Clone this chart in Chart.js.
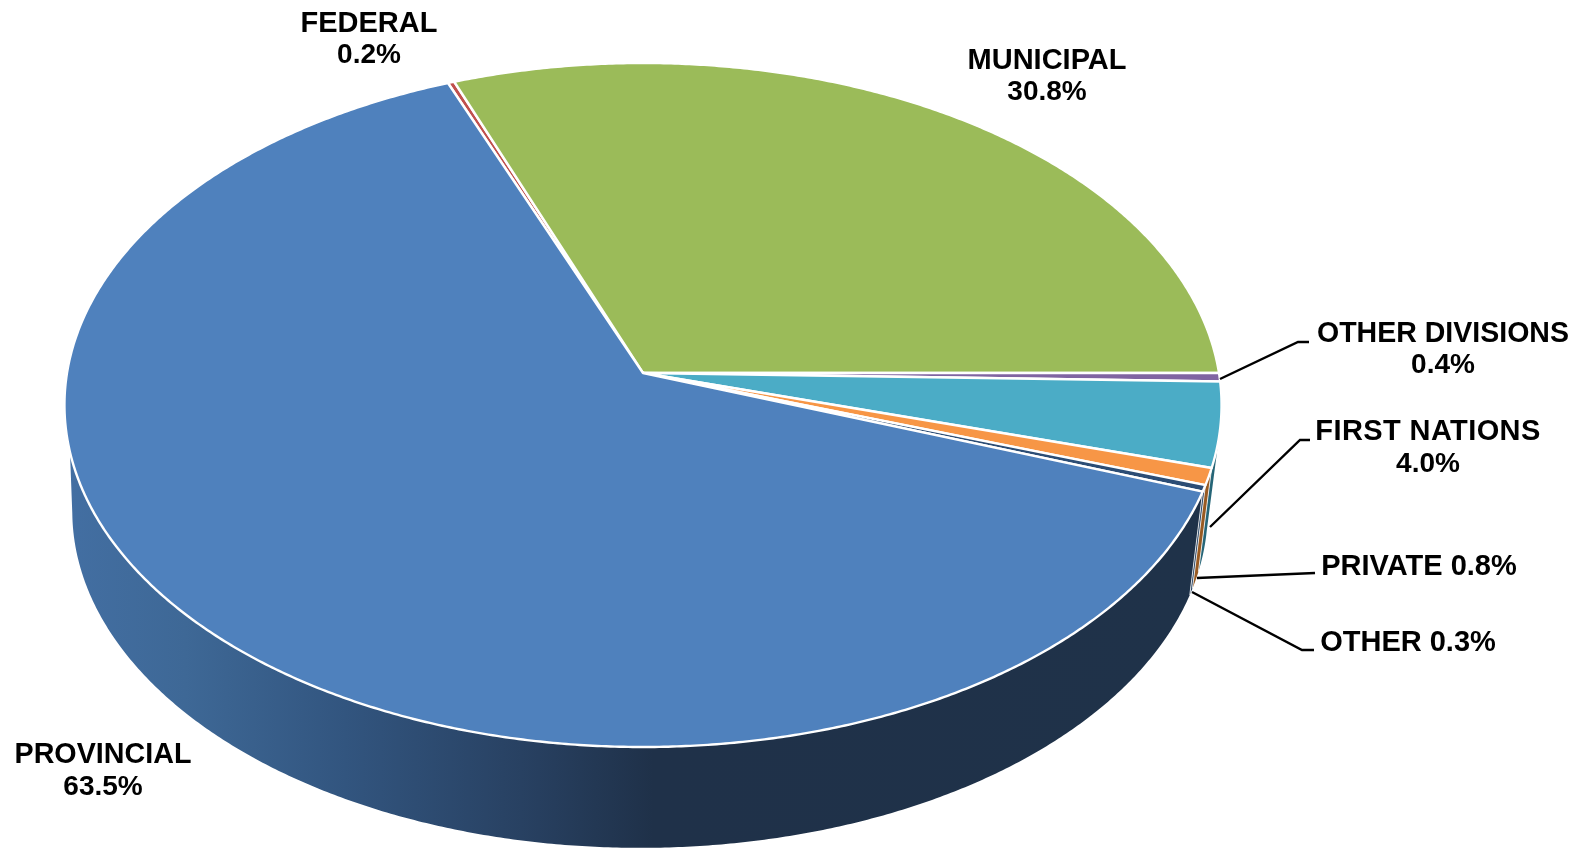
<!DOCTYPE html>
<html>
<head>
<meta charset="utf-8">
<script src="https://cdn.jsdelivr.net/npm/chart.js@4"></script>
<style>html,body{margin:0;padding:0;background:#fff}canvas{display:block}</style>
</head>
<body>
<canvas id="c" width="1577" height="850"></canvas>
<script>
const categories = ['FEDERAL','MUNICIPAL','OTHER DIVISIONS','FIRST NATIONS','PRIVATE','OTHER','PROVINCIAL'];
const shares = [0.2,30.8,0.4,4.0,0.8,0.3,63.5];
const topColors = ['#C0504D','#9BBB59','#8064A2','#4BACC6','#F79646','#2C4D75','#4F81BD'];
const wallColors = ['#7F3331','#677D3B','#55436C','#266577','#985A22','#24405F',null];
const firstSliceAngle = -21.6;

/* label layout: text centre, baselines, leader polyline */
const labelLayout = [
  {x:369,y:[32,63]},
  {x:1047,y:[69,100]},
  {x:1443,y:[342,373],w:252,lead:[[1220,379],[1298,342],[1309,342]]},
  {x:1428,y:[440,472],ls:'0.4px',lead:[[1210,527],[1300,440],[1310,440]]},
  {x:1419,y:[575],lead:[[1197,578],[1315,573]]},
  {x:1408,y:[651],lead:[[1192,592],[1302,650],[1314,650]]},
  {x:103,y:[763,795],w:177}
];

/* perspective of the pie's disc: top face and bottom face */
const topFace = {cx:643,cy:373,a:576,b:339,k:-0.0936};
const lowFace = {cx:640,cy:478,a:565,b:333.7,k:-0.0978};
const project = (f,t)=>{const u=Math.cos(t),v=Math.sin(t),w=1+f.k*v;return [f.cx+f.a*u/w,f.cy+f.b*v/w];};
const rad = d=>d*Math.PI/180;
/* canvas angle limits where the side wall leaves the silhouette */
const wallLimits = {topFrom:rad(11),lowFrom:rad(9),topTo:rad(166.8),lowTo:rad(174)};

function rim(ctx,f,a0,a1,first){
  const n=Math.max(2,Math.ceil(Math.abs(a1-a0)/rad(0.4)));
  for(let i=0;i<=n;i++){
    const p=project(f,a0+(a1-a0)*i/n);
    if(i===0&&first)ctx.moveTo(p[0],p[1]);else ctx.lineTo(p[0],p[1]);
  }
}

const pie3d = {
  id:'pie3d',
  beforeDatasetDraw(chart,args){
    const ctx=chart.ctx, arcs=args.meta.data;
    ctx.save();
    ctx.lineJoin='round';
    /* side walls */
    arcs.forEach((arc,i)=>{
      const s=arc.startAngle,e=arc.endAngle;
      const norm=x=>{let y=x;while(y<-Math.PI/2)y+=2*Math.PI;return y;};
      const a0=norm(s),a1=a0+(e-s);
      if(a1<=wallLimits.lowFrom||a0>=wallLimits.topTo)return;
      ctx.beginPath();
      rim(ctx,topFace,Math.max(a0,wallLimits.topFrom),Math.min(a1,wallLimits.topTo),true);
      rim(ctx,lowFace,Math.min(a1,wallLimits.lowTo),Math.max(a0,wallLimits.lowFrom),false);
      ctx.closePath();
      if(wallColors[i]){ctx.fillStyle=wallColors[i];}
      else{
        const g=ctx.createLinearGradient(60,0,1200,0);
        g.addColorStop(0,'#436FA3');g.addColorStop(0.11,'#3E6896');g.addColorStop(0.25,'#32557F');
        g.addColorStop(0.42,'#273F5F');g.addColorStop(0.52,'#1F3149');g.addColorStop(1,'#1F3249');
        ctx.fillStyle=g;
      }
      ctx.fill();
      ctx.strokeStyle='#fff';ctx.lineWidth=0.8;
      ctx.beginPath();
      const p=project(topFace,a0),q=project(lowFace,a0);
      if(a0>wallLimits.lowFrom){ctx.moveTo(p[0],p[1]);ctx.lineTo(q[0],q[1]);ctx.stroke();}
    });
    /* top face */
    arcs.forEach(arc=>{
      ctx.beginPath();
      ctx.moveTo(topFace.cx,topFace.cy);
      rim(ctx,topFace,arc.startAngle,arc.endAngle,false);
      ctx.closePath();
      ctx.fillStyle=arc.options.backgroundColor;
      ctx.fill();
      ctx.strokeStyle=arc.options.borderColor;
      ctx.lineWidth=arc.options.borderWidth;
      ctx.stroke();
    });
    ctx.restore();
    return false;
  },
  afterDatasetsDraw(chart){
    const ctx=chart.ctx;
    ctx.save();
    ctx.strokeStyle='#000';ctx.lineWidth=2.4;ctx.lineJoin='miter';
    labelLayout.forEach(l=>{
      if(!l.lead)return;
      ctx.beginPath();
      l.lead.forEach((p,i)=>i?ctx.lineTo(p[0],p[1]):ctx.moveTo(p[0],p[1]));
      ctx.stroke();
    });
    ctx.fillStyle='#000';
    const nameFont='bold 29px "Liberation Sans", Arial, sans-serif';
    const pctFont='bold 28px "Liberation Sans", Arial, sans-serif';
    ctx.textAlign='center';ctx.textBaseline='alphabetic';
    categories.forEach((name,i)=>{
      const l=labelLayout[i],pct=shares[i].toFixed(1)+'%';
      const lines=l.y.length>1?[name,pct]:[name+' '+pct];
      lines.forEach((t,j)=>{
        ctx.font=j===0?nameFont:pctFont;
        ctx.letterSpacing=(l.ls&&j===0)?l.ls:'0px';
        if(l.w&&j===0)ctx.fillText(t,l.x,l.y[j],l.w);
        else ctx.fillText(t,l.x,l.y[j]);
      });
    });
    ctx.restore();
  }
};

new Chart(document.getElementById('c'),{
  type:'pie',
  data:{labels:categories,datasets:[{
    data:shares,
    backgroundColor:topColors,
    borderColor:'#ffffff',
    borderWidth:2.4
  }]},
  options:{
    responsive:false,
    animation:false,
    rotation:firstSliceAngle,
    plugins:{legend:{display:false},tooltip:{enabled:false}}
  },
  plugins:[pie3d]
});
</script>
</body>
</html>
